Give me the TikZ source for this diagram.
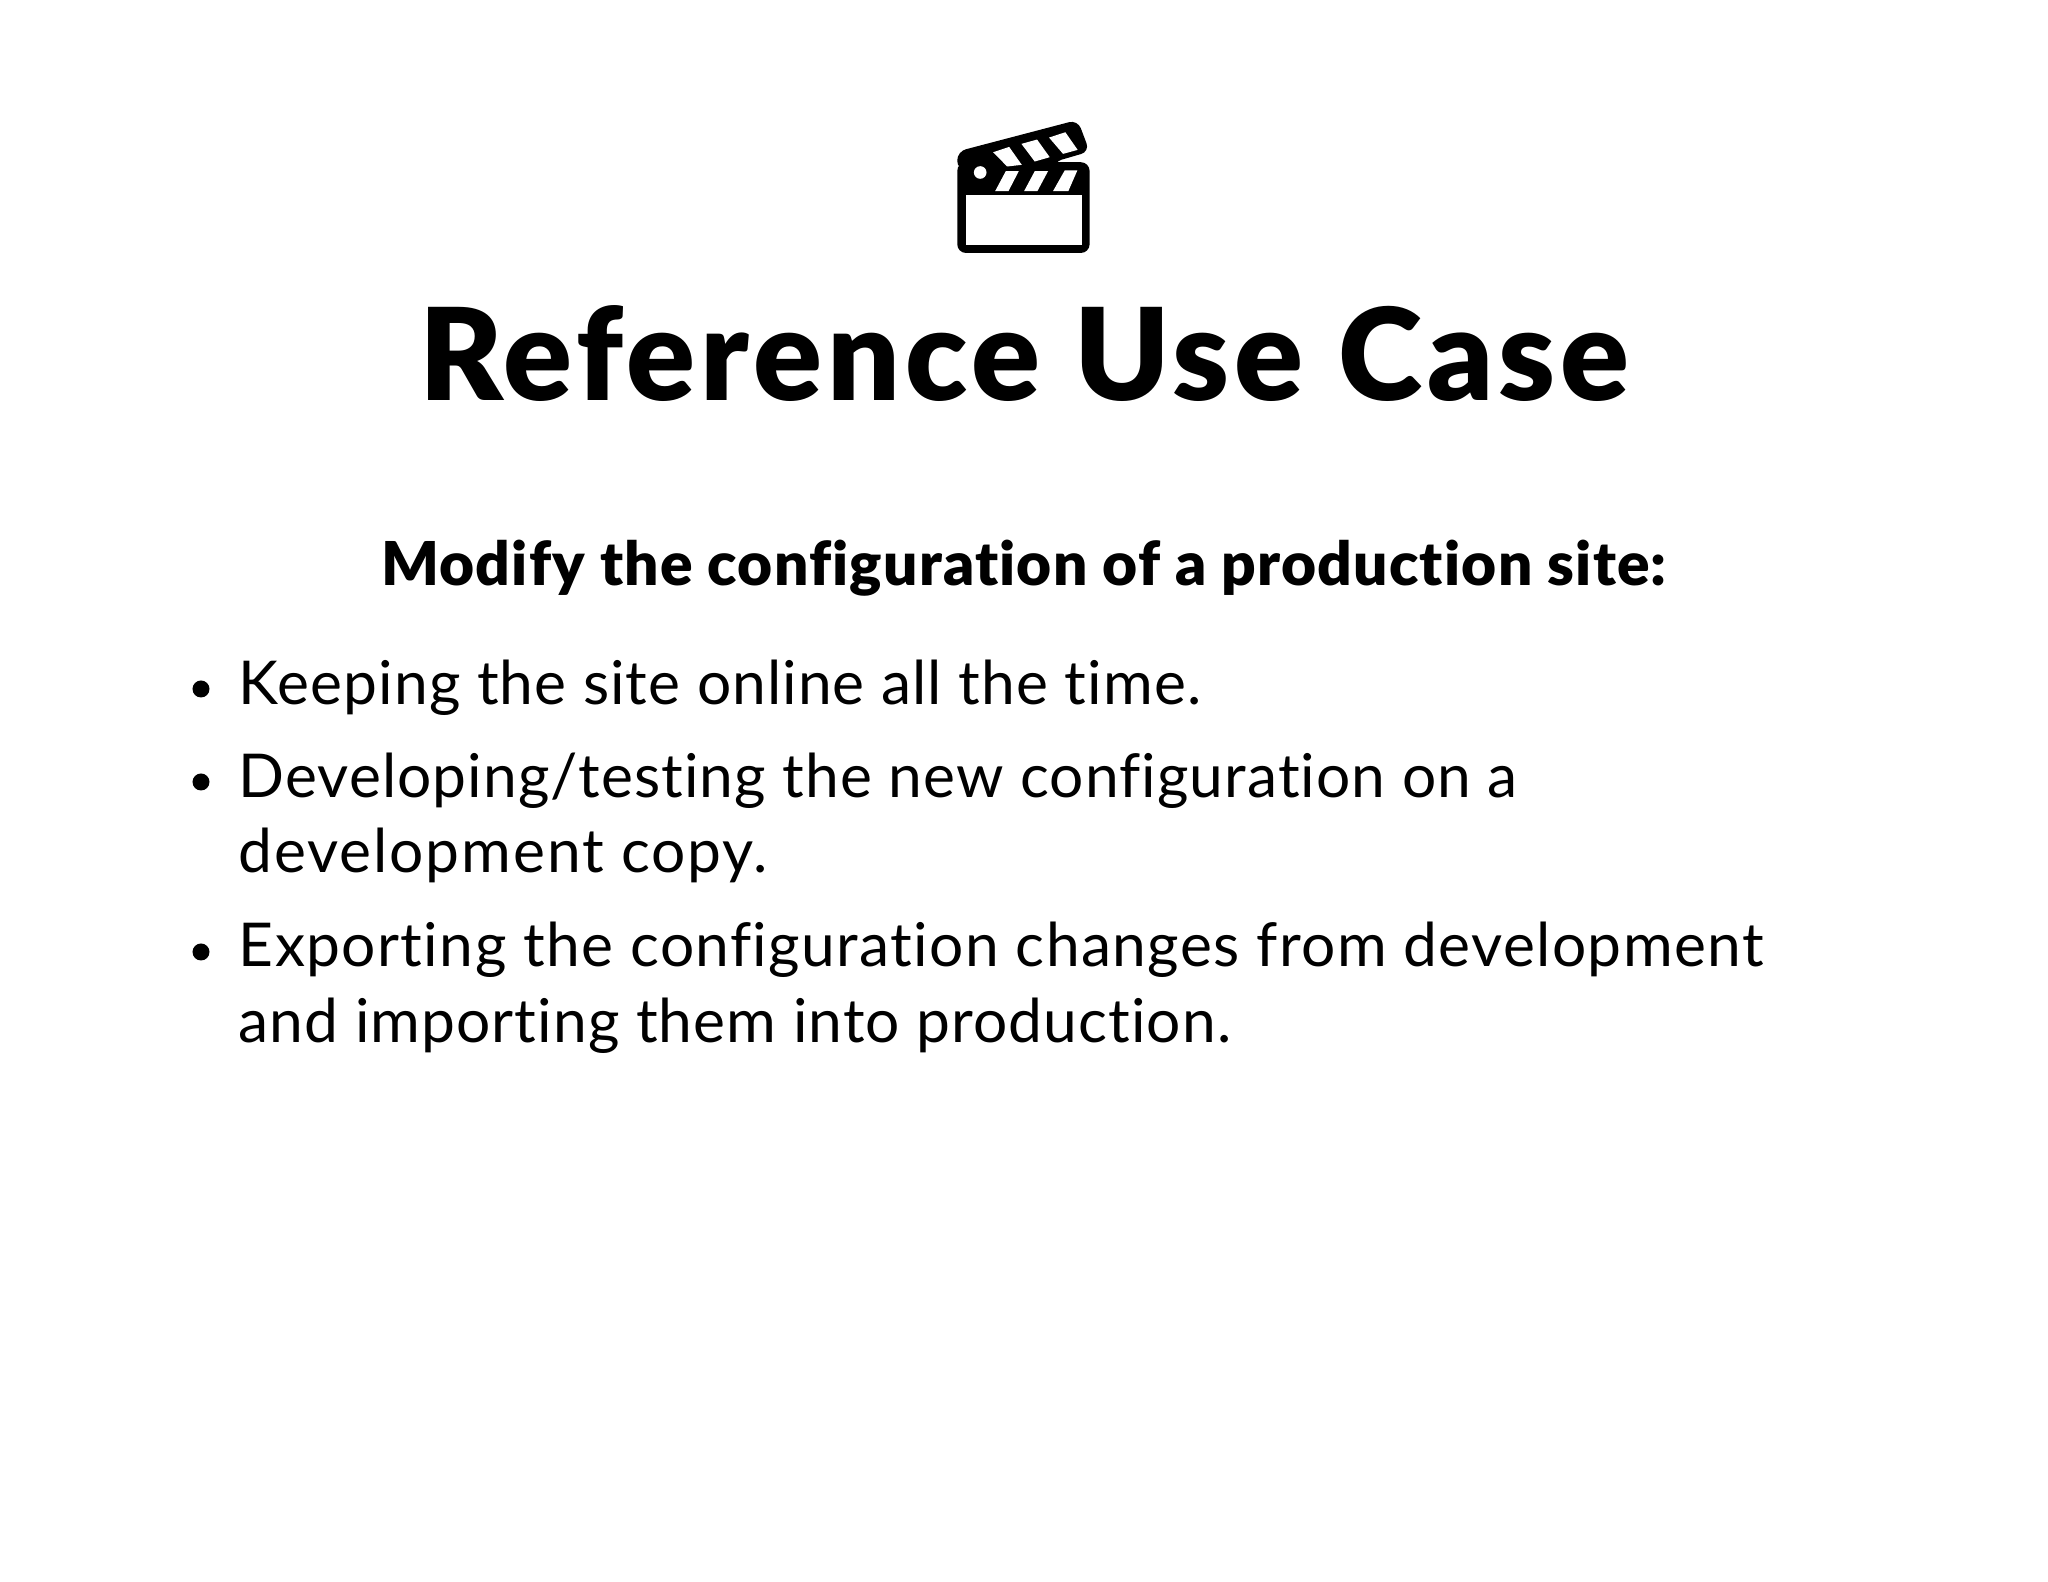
\documentclass[tikz,border=0pt]{standalone}
\usepackage{fontspec}
\setmainfont{Lato}[Ligatures=NoCommon]
\newfontfamily\titlefont{Lato}[Ligatures=NoCommon, LetterSpace=3.85, BoldFont={* Black}]
\newfontfamily\subfont{Lato}[Ligatures=NoCommon, LetterSpace=1.95, BoldFont={* Black}]
\newfontfamily\bodyfont{Lato}[Ligatures=NoCommon, LetterSpace=1.8]
\usepackage{tikz}

\tikzset{
	titletext/.style={anchor=base, inner sep=0pt, font=\fontsize{36.4}{37}\selectfont\titlefont\bfseries},
	subtext/.style={anchor=base, inner sep=0pt, font=\fontsize{17.2}{20}\selectfont\subfont\bfseries},
	bodytext/.style={anchor=base west, inner sep=0pt, font=\fontsize{17.2}{20}\selectfont\bodyfont}
}

\begin{document}
\begin{tikzpicture}
\useasboundingbox (0, 0) rectangle (20.48, 15.82);
\fill[white] (0, 0) rectangle (20.48, 15.82);
% clapper
\begin{scope}[shift={(9.2, 14.82)}, x=0.003333cm, y=-0.003333cm]
\fill[rounded corners=2.5pt] (112, 460) rectangle (510, 187); % body
\fill[rounded corners=2.5pt] (112, 210) -- (112, 155) -- (474, 60) -- (510, 155) -- (400, 187) -- (400, 210) -- cycle; % arm
\fill[white] (137, 286) rectangle (486, 436);
\fill[white] (181, 218) circle (19);
\fill[white] (226, 274) -- (258, 214) -- (297, 214) -- (266, 274) -- cycle;
\fill[white] (313, 274) -- (345, 214) -- (385, 214) -- (353, 274) -- cycle;
\fill[white] (400, 274) -- (435, 212) -- (473, 212) -- (446, 274) -- cycle;
\fill[white] (220, 157) -- (268, 141) -- (306, 195) -- (262, 200) -- cycle;
\fill[white] (305, 132) -- (352, 119) -- (390, 172) -- (345, 185) -- cycle;
\fill[white] (388, 113) -- (437, 97) -- (474, 150) -- (430, 162) -- cycle;
\end{scope}
\draw (10.24, 11.81) node[titletext] (title) {Reference Use Case};
\draw (10.24, 9.96) node[subtext] (modify) {Modify the configuration of a production site:};
\fill (2.01, 8.93) circle (0.085) ; % Keeping
\fill (2.01, 8.0) circle (0.085) ; % Developing
\fill (2.01, 6.3) circle (0.085) ; % Exporting
\draw (2.38, 8.77) node[bodytext] (keep) {Keeping the site online all the time.};
\draw (2.38, 7.84) node[bodytext] (devA) {Developing/testing the new configuration on a};
\draw (2.38, 7.09) node[bodytext] (devB) {\addfontfeature{LetterSpace=3.1}development copy.};
\draw (2.38, 6.15) node[bodytext] (expA) {\addfontfeature{LetterSpace=2.3}Exporting the configuration changes from development};
\draw (2.38, 5.39) node[bodytext] (expB) {and importing them into production.};
\end{tikzpicture}
\end{document}
